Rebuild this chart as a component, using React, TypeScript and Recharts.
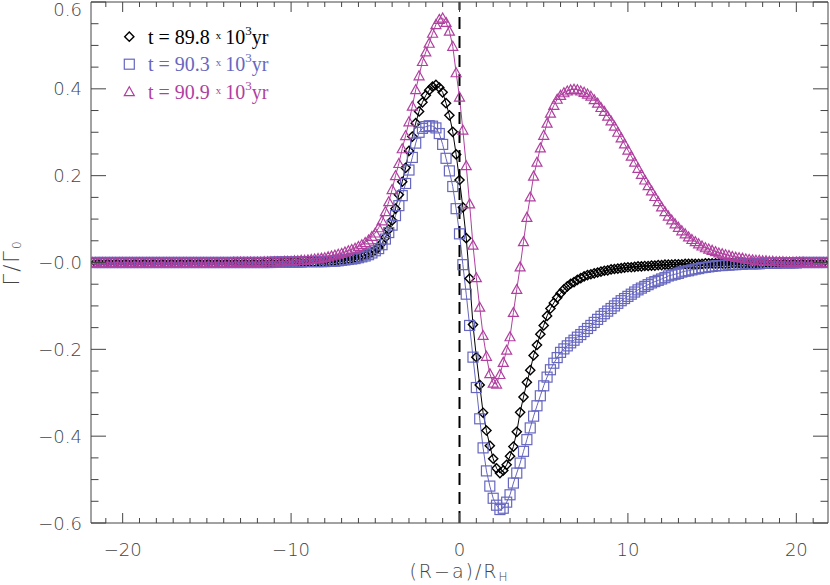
import React from 'react';
import { LineChart, Line, XAxis, YAxis, ReferenceLine, Legend, Label } from 'recharts';

// (R-a)/R_H sample positions
const xs = [
  -21.8, -21.6, -21.4, -21.2, -21.0, -20.8, -20.6, -20.4, -20.2, -20.0,
  -19.8, -19.6, -19.4, -19.2, -19.0, -18.8, -18.6, -18.4, -18.2, -18.0,
  -17.8, -17.6, -17.4, -17.2, -17.0, -16.8, -16.6, -16.4, -16.2, -16.0,
  -15.8, -15.6, -15.4, -15.2, -15.0, -14.8, -14.6, -14.4, -14.2, -14.0,
  -13.8, -13.6, -13.4, -13.2, -13.0, -12.8, -12.6, -12.4, -12.2, -12.0,
  -11.8, -11.6, -11.4, -11.2, -11.0, -10.8, -10.6, -10.4, -10.2, -10.0,
  -9.8, -9.6, -9.4, -9.2, -9.0, -8.8, -8.6, -8.4, -8.2, -8.0,
  -7.8, -7.6, -7.4, -7.2, -7.0, -6.8, -6.6, -6.4, -6.2, -6.0,
  -5.8, -5.6, -5.4, -5.2, -5.0, -4.8, -4.6, -4.4, -4.2, -4.0,
  -3.8, -3.6, -3.4, -3.2, -3.0, -2.8, -2.6, -2.4, -2.2, -2.0,
  -1.8, -1.6, -1.4, -1.2, -1.0, -0.8, -0.6, -0.4, -0.2, 0.0,
  0.2, 0.4, 0.6, 0.8, 1.0, 1.2, 1.4, 1.6, 1.8, 2.0,
  2.2, 2.4, 2.6, 2.8, 3.0, 3.2, 3.4, 3.6, 3.8, 4.0,
  4.2, 4.4, 4.6, 4.8, 5.0, 5.2, 5.4, 5.6, 5.8, 6.0,
  6.2, 6.4, 6.6, 6.8, 7.0, 7.2, 7.4, 7.6, 7.8, 8.0,
  8.2, 8.4, 8.6, 8.8, 9.0, 9.2, 9.4, 9.6, 9.8, 10.0,
  10.2, 10.4, 10.6, 10.8, 11.0, 11.2, 11.4, 11.6, 11.8, 12.0,
  12.2, 12.4, 12.6, 12.8, 13.0, 13.2, 13.4, 13.6, 13.8, 14.0,
  14.2, 14.4, 14.6, 14.8, 15.0, 15.2, 15.4, 15.6, 15.8, 16.0,
  16.2, 16.4, 16.6, 16.8, 17.0, 17.2, 17.4, 17.6, 17.8, 18.0,
  18.2, 18.4, 18.6, 18.8, 19.0, 19.2, 19.4, 19.6, 19.8, 20.0,
  20.2, 20.4, 20.6, 20.8, 21.0, 21.2, 21.4, 21.6, 21.8,
];

// t = 89.8 x 10^3 yr (diamonds)
const black = [
  0, 0, 0, 0, 0, 0, 0, 0, 0, 0,
  0, 0, 0, 0, 0, 0, 0, 0, 0, 0,
  0, 0, 0, 0, 0, 0, 0, 0, 0, 0,
  0, 0, 0, 0, 0, 0, 0, 0, 0, 0,
  0, 0, 0, 0, 0, 0, 0, 0, 0, 0,
  0, 0, 0, 0, 0.001, 0.001, 0.001, 0.001, 0.001, 0.001,
  0.001, 0.001, 0.002, 0.002, 0.002, 0.002, 0.002, 0.003, 0.003, 0.003,
  0.003, 0.004, 0.005, 0.006, 0.007, 0.008, 0.009, 0.010, 0.011, 0.012,
  0.014, 0.017, 0.020, 0.024, 0.029, 0.035, 0.045, 0.058, 0.076, 0.097,
  0.124, 0.156, 0.186, 0.218, 0.257, 0.290, 0.321, 0.348, 0.369, 0.385,
  0.397, 0.405, 0.409, 0.403, 0.392, 0.367, 0.339, 0.301, 0.249, 0.190,
  0.127, 0.056, -0.037, -0.143, -0.218, -0.282, -0.346, -0.387, -0.422, -0.452,
  -0.474, -0.485, -0.479, -0.466, -0.446, -0.424, -0.390, -0.345, -0.310, -0.276,
  -0.248, -0.214, -0.190, -0.165, -0.145, -0.123, -0.106, -0.093, -0.081, -0.071,
  -0.062, -0.055, -0.049, -0.045, -0.040, -0.036, -0.032, -0.029, -0.027, -0.025,
  -0.023, -0.021, -0.019, -0.018, -0.016, -0.015, -0.014, -0.013, -0.012, -0.011,
  -0.011, -0.010, -0.009, -0.009, -0.008, -0.008, -0.007, -0.007, -0.006, -0.006,
  -0.005, -0.005, -0.005, -0.004, -0.004, -0.004, -0.003, -0.003, -0.003, -0.003,
  -0.003, -0.003, -0.002, -0.002, -0.002, -0.002, -0.002, -0.002, -0.002, -0.002,
  -0.001, -0.001, -0.001, -0.001, -0.001, -0.001, -0.001, -0.001, -0.001, -0.001,
  0, 0, 0, 0, 0, 0, 0, 0, 0, 0,
  0, 0, 0, 0, 0, 0, 0, 0, 0,
];

// t = 90.3 x 10^3 yr (squares)
const blue = [
  0, 0, 0, 0, 0, 0, 0, 0, 0, 0,
  0, 0, 0, 0, 0, 0, 0, 0, 0, 0,
  0, 0, 0, 0, 0, 0, 0, 0, 0, 0,
  0, 0, 0, 0, 0, 0, 0, 0, 0, 0,
  0, 0, 0, 0, 0, 0, 0, 0, 0, 0,
  0, 0, 0, 0, 0.001, 0.001, 0.001, 0.001, 0.001, 0.001,
  0.001, 0.001, 0.001, 0.002, 0.002, 0.002, 0.002, 0.002, 0.002, 0.002,
  0.003, 0.003, 0.003, 0.004, 0.005, 0.006, 0.007, 0.008, 0.009, 0.011,
  0.013, 0.015, 0.018, 0.022, 0.027, 0.032, 0.041, 0.054, 0.069, 0.086,
  0.108, 0.131, 0.154, 0.182, 0.213, 0.242, 0.275, 0.300, 0.309, 0.313,
  0.315, 0.314, 0.310, 0.297, 0.272, 0.240, 0.211, 0.175, 0.124, 0.066,
  -0.005, -0.073, -0.145, -0.218, -0.288, -0.360, -0.427, -0.480, -0.515, -0.543,
  -0.559, -0.569, -0.566, -0.552, -0.535, -0.508, -0.485, -0.462, -0.435, -0.408,
  -0.381, -0.354, -0.330, -0.307, -0.284, -0.264, -0.247, -0.232, -0.219, -0.207,
  -0.199, -0.192, -0.185, -0.179, -0.172, -0.166, -0.159, -0.152, -0.145, -0.138,
  -0.131, -0.124, -0.118, -0.112, -0.106, -0.100, -0.094, -0.088, -0.083, -0.078,
  -0.073, -0.068, -0.063, -0.059, -0.055, -0.051, -0.047, -0.044, -0.041, -0.038,
  -0.035, -0.031, -0.029, -0.027, -0.025, -0.022, -0.020, -0.019, -0.017, -0.015,
  -0.014, -0.012, -0.011, -0.010, -0.009, -0.008, -0.007, -0.007, -0.006, -0.006,
  -0.005, -0.005, -0.004, -0.004, -0.003, -0.003, -0.003, -0.003, -0.003, -0.002,
  -0.002, -0.002, -0.002, -0.002, -0.001, -0.001, -0.001, -0.001, -0.001, -0.001,
  0, 0, 0, 0, 0, 0, 0, 0, 0,
];

// t = 90.9 x 10^3 yr (triangles)
const magenta = [
  0, 0, 0, 0, 0, 0, 0, 0, 0, 0,
  0, 0, 0, 0, 0, 0, 0, 0, 0, 0,
  0, 0, 0, 0, 0, 0, 0, 0, 0, 0,
  0, 0, 0, 0, 0, 0, 0, 0, 0, 0,
  0, 0, 0.001, 0.001, 0.001, 0.001, 0.001, 0.001, 0.001, 0.001,
  0.001, 0.002, 0.002, 0.002, 0.002, 0.002, 0.002, 0.003, 0.003, 0.003,
  0.004, 0.004, 0.005, 0.005, 0.006, 0.007, 0.008, 0.009, 0.010, 0.011,
  0.013, 0.015, 0.017, 0.019, 0.021, 0.024, 0.027, 0.030, 0.033, 0.037,
  0.041, 0.046, 0.052, 0.060, 0.068, 0.080, 0.096, 0.117, 0.140, 0.168,
  0.200, 0.228, 0.262, 0.292, 0.324, 0.360, 0.398, 0.430, 0.463, 0.485,
  0.505, 0.528, 0.548, 0.560, 0.563, 0.553, 0.533, 0.498, 0.437, 0.381,
  0.305, 0.223, 0.135, 0.040, -0.035, -0.103, -0.168, -0.216, -0.256, -0.278,
  -0.280, -0.258, -0.230, -0.202, -0.171, -0.115, -0.062, -0.010, 0.048, 0.104,
  0.151, 0.199, 0.231, 0.264, 0.293, 0.321, 0.344, 0.362, 0.376, 0.385,
  0.391, 0.395, 0.398, 0.399, 0.398, 0.395, 0.392, 0.388, 0.383, 0.375,
  0.367, 0.357, 0.348, 0.337, 0.326, 0.314, 0.300, 0.287, 0.273, 0.259,
  0.245, 0.231, 0.217, 0.203, 0.190, 0.177, 0.165, 0.152, 0.140, 0.128,
  0.117, 0.107, 0.098, 0.089, 0.081, 0.073, 0.066, 0.059, 0.053, 0.048,
  0.043, 0.038, 0.034, 0.031, 0.028, 0.025, 0.022, 0.020, 0.018, 0.016,
  0.014, 0.012, 0.011, 0.010, 0.008, 0.007, 0.006, 0.005, 0.005, 0.004,
  0.004, 0.003, 0.003, 0.002, 0.002, 0.002, 0.001, 0.001, 0.001, 0.001,
  0.001, 0.001, 0, 0, 0, 0, 0, 0, 0,
];

const times = ['89.8', '90.3', '90.9'];

const xTicks = [
  -21, -20, -19, -18, -17, -16, -15, -14, -13, -12, -11, -10, -9, -8, -7, -6, -5, -4, -3, -2, -1,
  0, 1, 2, 3, 4, 5, 6, 7, 8, 9, 10, 11, 12, 13, 14, 15, 16, 17, 18, 19, 20, 21,
];
const xMajor = [-20, -10, 0, 10, 20];
const xTickLabels = ['−20', '−10', '0', '10', '20'];

const yTicks = [
  -0.6, -0.55, -0.5, -0.45, -0.4, -0.35, -0.3, -0.25, -0.2, -0.15, -0.1, -0.05,
  0, 0.05, 0.1, 0.15, 0.2, 0.25, 0.3, 0.35, 0.4, 0.45, 0.5, 0.55, 0.6,
];
const yMajor = [-0.6, -0.4, -0.2, 0, 0.2, 0.4, 0.6];
const yTickLabels = ['−0.6', '−0.4', '−0.2', '−0.0', '0.2', '0.4', '0.6'];

const COLORS = ['#000000', '#6767c0', '#b03fa0'];
const AXIS = '#444444';
const TICK_FONT = '"DejaVu Sans", sans-serif';
const LEGEND_FONT = '"Liberation Serif", "Times New Roman", serif';

const data = xs.map((x, i) => ({ x, black: black[i], blue: blue[i], magenta: magenta[i] }));

const majorIndex = (list: number[], v: number) => list.findIndex((m) => Math.abs(m - v) < 1e-6);

const tickText = { fontFamily: TICK_FONT, fontSize: 18, fontWeight: 300, fill: AXIS } as const;

const BottomTick = (props: any) => {
  const { x, y, payload } = props;
  const k = majorIndex(xMajor, payload.value);
  return (
    <g>
      <line x1={x} x2={x} y1={y} y2={y - (k >= 0 ? 10 : 5)} stroke={AXIS} />
      {k >= 0 && (
        <text x={x} y={y + 33} textAnchor="middle" {...tickText}>
          {xTickLabels[k]}
        </text>
      )}
    </g>
  );
};

const TopTick = (props: any) => {
  const { x, y, payload } = props;
  const k = majorIndex(xMajor, payload.value);
  return <line x1={x} x2={x} y1={y} y2={y + (k >= 0 ? 10 : 5)} stroke={AXIS} />;
};

const LeftTick = (props: any) => {
  const { x, y, payload } = props;
  const k = majorIndex(yMajor, payload.value);
  // keep the top label inside the page
  const ty = Math.max(y, 9);
  return (
    <g>
      <line x1={x} x2={x + (k >= 0 ? 15 : 7.5)} y1={y} y2={y} stroke={AXIS} />
      {k >= 0 && (
        <text x={x - 9} y={ty + 6.5} textAnchor="end" {...tickText}>
          {yTickLabels[k]}
        </text>
      )}
    </g>
  );
};

const RightTick = (props: any) => {
  const { x, y, payload } = props;
  const k = majorIndex(yMajor, payload.value);
  return <line x1={x} x2={x - (k >= 0 ? 15 : 7.5)} y1={y} y2={y} stroke={AXIS} />;
};

const XTitle = (props: any) => {
  const { viewBox } = props;
  const cx = viewBox.x + viewBox.width / 2;
  return (
    <text x={cx} y={viewBox.y + 55} textAnchor="middle" {...tickText} fontSize={19} letterSpacing={2}>
      (R−a)/R<tspan fontSize={12} dy={3}>H</tspan>
    </text>
  );
};

const YTitle = (props: any) => {
  const { viewBox } = props;
  const cx = viewBox.x + 12;
  const cy = viewBox.y + viewBox.height / 2;
  return (
    <text
      x={cx}
      y={cy}
      transform={`rotate(-90 ${cx} ${cy})`}
      textAnchor="middle"
      dominantBaseline="central"
      {...tickText}
      fontSize={21}
      letterSpacing={2}
    >
      Γ/Γ<tspan fontSize={12} dy={5}>0</tspan>
    </text>
  );
};

const diamondPath = (cx: number, cy: number, r: number) =>
  `M${cx},${cy - r}L${cx + r},${cy}L${cx},${cy + r}L${cx - r},${cy}Z`;
const trianglePath = (cx: number, cy: number) =>
  `M${cx},${cy - 5}L${cx + 5},${cy + 4}L${cx - 5},${cy + 4}Z`;

const Marker = ({ kind, cx, cy }: { kind: number; cx: number; cy: number }) => {
  if (kind === 0)
    return <path d={diamondPath(cx, cy, 4.6)} fill="none" stroke={COLORS[0]} strokeWidth={1.4} />;
  if (kind === 1)
    return <rect x={cx - 5} y={cy - 5} width={10} height={10} fill="none" stroke={COLORS[1]} strokeWidth={1.2} />;
  return <path d={trianglePath(cx, cy)} fill="none" stroke={COLORS[2]} strokeWidth={1.2} />;
};

const dotFor = (kind: number) => (p: any) => {
  if (p.cx == null || p.cy == null) return <g key={`m${kind}-${p.index}`} />;
  return <Marker key={`m${kind}-${p.index}`} kind={kind} cx={p.cx} cy={p.cy} />;
};

const LegendBox = () => (
  <svg width={300} height={110} style={{ display: 'block' }}>
    {times.map((t, i) => {
      const cy = 36.7 + i * 27.5;
      return (
        <g key={t}>
          <Marker kind={i} cx={129.3} cy={cy} />
          <text x={148} y={cy + 7} fontFamily={LEGEND_FONT} fontSize={20} fill={COLORS[i]}>
            t = {t}
            <tspan fontSize={11} dx={6} dy={-5}>x</tspan>
            <tspan fontSize={20} dx={4} dy={5}>10</tspan>
            <tspan fontSize={13} dy={-9}>3</tspan>
            <tspan fontSize={20} dy={9}>yr</tspan>
          </text>
        </g>
      );
    })}
  </svg>
);

export default function App() {
  return (
    <div style={{ position: 'absolute', left: 0, top: 0, width: 830, height: 585, background: '#fff' }}>
      <LineChart width={830} height={585} data={data} margin={{ top: 0, right: 0, bottom: 0, left: 0 }}>
        <XAxis
          xAxisId="b"
          dataKey="x"
          type="number"
          domain={[-21.88, 21.88]}
          allowDataOverflow
          ticks={xTicks}
          interval={0}
          height={62}
          tickSize={0}
          tickMargin={0}
          tickLine={false}
          axisLine={{ stroke: AXIS }}
          tick={<BottomTick />}
        >
          <Label content={<XTitle />} />
        </XAxis>
        <XAxis
          xAxisId="t"
          orientation="top"
          dataKey="x"
          type="number"
          domain={[-21.88, 21.88]}
          allowDataOverflow
          ticks={xTicks}
          interval={0}
          height={2}
          tickSize={0}
          tickMargin={0}
          tickLine={false}
          axisLine={{ stroke: AXIS }}
          tick={<TopTick />}
        />
        <YAxis
          yAxisId="l"
          type="number"
          domain={[-0.6, 0.6]}
          allowDataOverflow
          ticks={yTicks}
          interval={0}
          width={91}
          tickSize={0}
          tickMargin={0}
          tickLine={false}
          axisLine={{ stroke: AXIS }}
          tick={<LeftTick />}
        >
          <Label content={<YTitle />} />
        </YAxis>
        <YAxis
          yAxisId="r"
          orientation="right"
          type="number"
          domain={[-0.6, 0.6]}
          allowDataOverflow
          ticks={yTicks}
          interval={0}
          width={2}
          tickSize={0}
          tickMargin={0}
          tickLine={false}
          axisLine={{ stroke: AXIS }}
          tick={<RightTick />}
        />
        <Legend
          layout="vertical"
          align="center"
          verticalAlign="middle"
          content={<LegendBox />}
          wrapperStyle={{ left: 0, top: 0, width: 300, height: 110 }}
        />
        <Line
          xAxisId="b"
          yAxisId="l"
          type="linear"
          dataKey="black"
          stroke={COLORS[0]}
          strokeWidth={1}
          dot={dotFor(0)}
          activeDot={false}
          isAnimationActive={false}
        />
        <Line
          xAxisId="b"
          yAxisId="l"
          type="linear"
          dataKey="blue"
          stroke={COLORS[1]}
          strokeWidth={1}
          dot={dotFor(1)}
          activeDot={false}
          isAnimationActive={false}
        />
        <Line
          xAxisId="b"
          yAxisId="l"
          type="linear"
          dataKey="magenta"
          stroke={COLORS[2]}
          strokeWidth={1}
          dot={dotFor(2)}
          activeDot={false}
          isAnimationActive={false}
        />
        <ReferenceLine xAxisId="b" yAxisId="l" x={0} stroke="#000" strokeWidth={2} strokeDasharray="12 7" />
      </LineChart>
    </div>
  );
}
